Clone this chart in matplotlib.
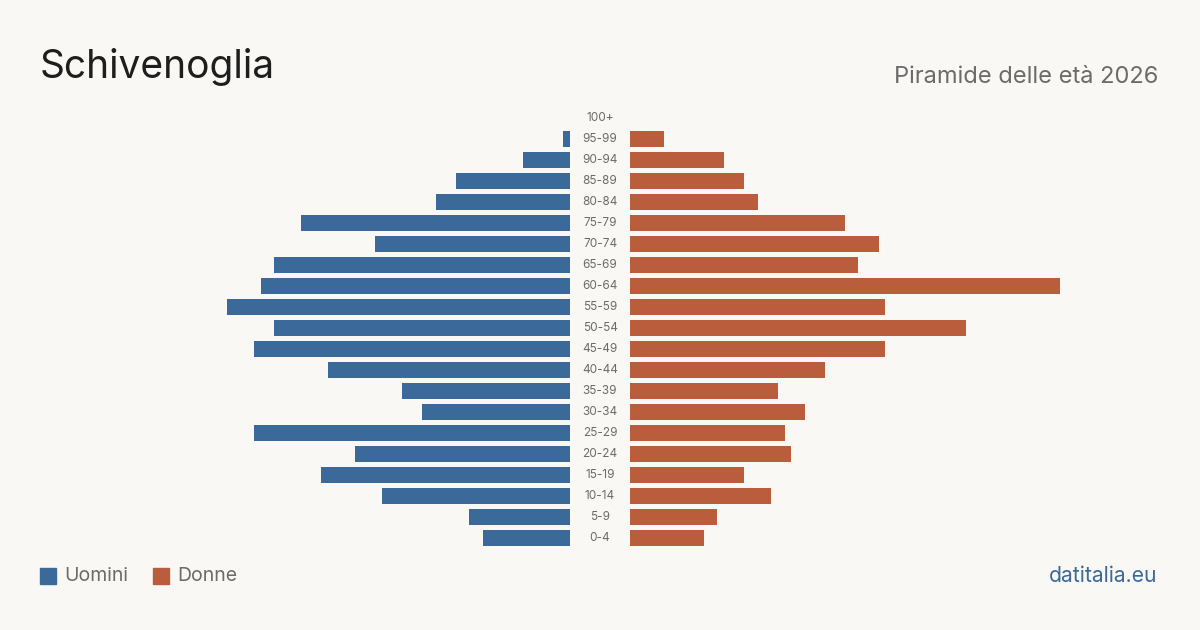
import matplotlib
matplotlib.use("Agg")
import matplotlib.pyplot as plt
from matplotlib.transforms import blended_transform_factory
from matplotlib.patches import Rectangle

plt.rcParams['font.family'] = ['Inter', 'DejaVu Sans']

# ---------------------------------------------------------------------------- #
# data (oldest group first, as drawn top to bottom)

ages = ["100+", "95-99", "90-94", "85-89", "80-84", "75-79", "70-74", "65-69",
        "60-64", "55-59", "50-54", "45-49", "40-44", "35-39", "30-34", "25-29",
        "20-24", "15-19", "10-14", "5-9", "0-4"]

men   = [0, 1, 7, 17, 20, 40, 29, 44, 46, 51, 44, 47, 36, 25, 22, 47, 32, 37, 28, 15, 13]
women = [0, 5, 14, 17, 19, 32, 37, 34, 64, 38, 50, 38, 29, 22, 26, 23, 24, 17, 21, 13, 11]

title    = "Schivenoglia"
subtitle = "Piramide delle età 2026"
source   = "datitalia.eu"

BLUE   = "#3b6a9a"
ORANGE = "#b95d3d"
BG     = "#f9f8f4"
GREY   = "#6b6b6b"

# ---------------------------------------------------------------------------- #

W, H = 1200, 630
fig = plt.figure(figsize=(W / 100, H / 100), dpi=100, facecolor=BG)

top_px, bot_px = 107.5, 548.5
bottom = (H - bot_px) / H
height = (bot_px - top_px) / H

axL = fig.add_axes([140 / W, bottom, 430 / W, height])
axR = fig.add_axes([630 / W, bottom, 430 / W, height])

xmax = max(max(men), max(women))
ypos = list(range(len(ages)))

axL.barh(ypos, men, height=0.8, color=BLUE)
axR.barh(ypos, women, height=0.8, color=ORANGE)

for ax in (axL, axR):
    ax.set_ylim(len(ages) - 0.5, -0.5)
    ax.axis("off")
    ax.set_facecolor(BG)
axL.set_xlim(xmax, 0)
axR.set_xlim(0, xmax)

# age labels in the gap between the two halves
tr = blended_transform_factory(fig.transFigure, axL.transData)
for y, lab in zip(ypos, ages):
    axL.text(0.5, y, lab, transform=tr, ha="center", va="center",
             fontsize=8.5, color=GREY, clip_on=False)

# titles
fig.text(40 / W, 1 - 67 / H, title, fontsize=28, color="#1e1e1e",
         ha="left", va="center")
fig.text(1158 / W, 1 - 77 / H, subtitle, fontsize=17, color=GREY,
         ha="right", va="center")

# legend
for x0, col, lab in ((40, BLUE, "Uomini"), (153, ORANGE, "Donne")):
    fig.patches.append(Rectangle((x0 / W, 1 - 584 / H), 16 / W, 16 / H,
                                 transform=fig.transFigure, color=col))
    fig.text((x0 + 24) / W, 1 - 576 / H, lab, fontsize=14, color=GREY,
             ha="left", va="center")

fig.text(1157 / W, 1 - 576 / H, source, fontsize=15.2, color=BLUE,
         ha="right", va="center")

fig.savefig("out.png", dpi=100, facecolor=BG)
